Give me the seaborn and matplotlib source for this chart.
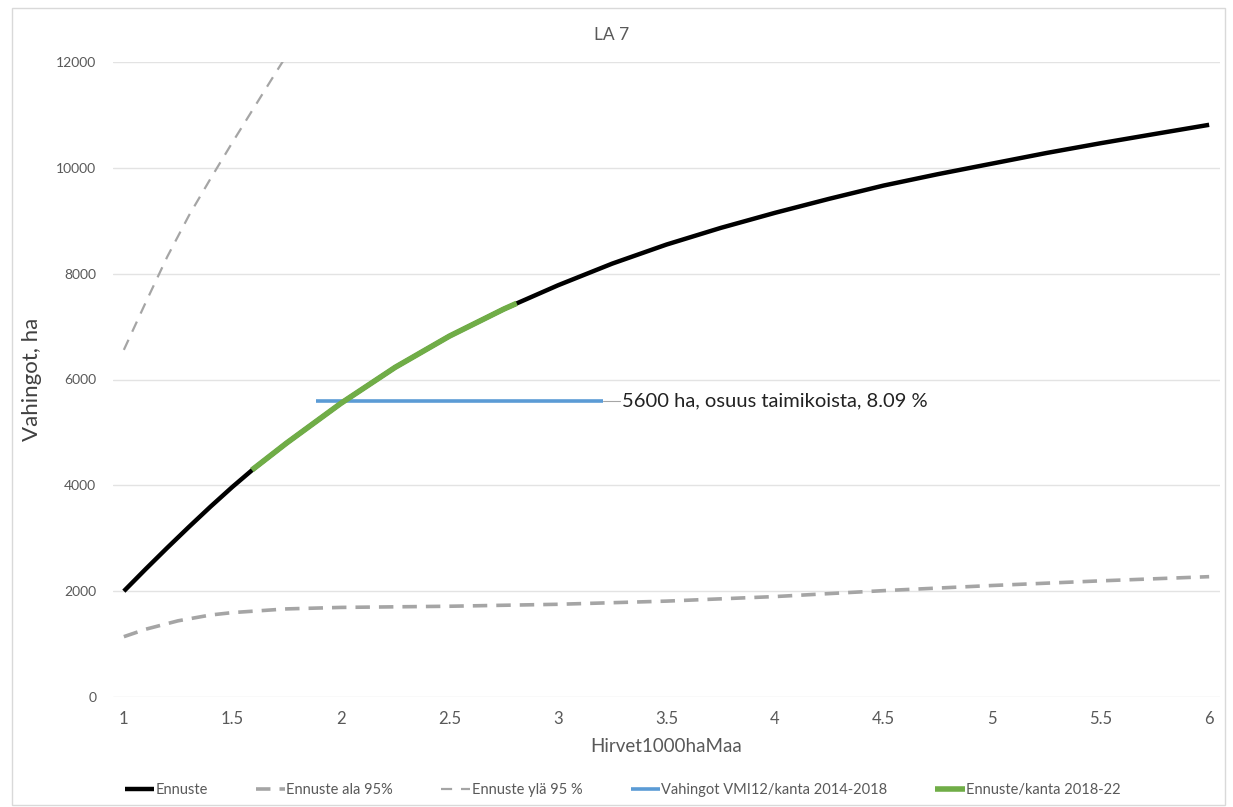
import numpy as np
import pandas as pd
import matplotlib
matplotlib.use("Agg")
import matplotlib.pyplot as plt
import seaborn as sns

# ---- data ----
x_main = [1.0, 1.1, 1.2, 1.3, 1.4, 1.5, 1.6, 1.75, 2.0, 2.25, 2.5, 2.75, 3.0, 3.25, 3.5,
          3.75, 4.0, 4.25, 4.5, 4.75, 5.0, 5.25, 5.5, 5.75, 6.0]
ennuste = [2000, 2415, 2820, 3215, 3600, 3970, 4320, 4800, 5550, 6230, 6820, 7330, 7780,
           8190, 8550, 8865, 9150, 9415, 9665, 9880, 10080, 10280, 10465, 10640, 10813]

x_low = [1.0, 1.1, 1.25, 1.4, 1.5, 1.75, 2.0, 2.5, 3.0, 3.5, 4.0, 4.5, 5.0, 5.5, 6.0]
ala95 = [1140, 1280, 1440, 1550, 1595, 1665, 1693, 1715, 1752, 1812, 1898, 2010, 2107,
         2195, 2274]

x_up = [1.0, 1.1, 1.2, 1.3, 1.4, 1.5, 1.6, 1.7, 1.8]
yla95 = [6560, 7450, 8320, 9100, 9800, 10480, 11140, 11800, 12450]

x_vmi = [1.885, 3.207]
vmi = [5600, 5600]

x_kanta = [1.59, 1.75, 2.0, 2.25, 2.5, 2.75, 2.81]
kanta = [4290, 4800, 5550, 6230, 6820, 7330, 7440]

labels = ["Ennuste", "Ennuste ala 95%", "Ennuste ylä 95 %",
          "Vahingot VMI12/kanta 2014-2018", "Ennuste/kanta 2018-22"]
annot = "5600 ha, osuus taimikoista, 8.09 %"

sns.set_theme(style="white")
plt.rcParams['font.family'] = ['Lato', 'DejaVu Sans']

fig = plt.figure(figsize=(12.33, 8.07), dpi=100)
ax = fig.add_axes([113/1233, 1-697/807, (1220-113)/1233, (697-62)/807])

grey = "#A5A5A5"
sns.lineplot(x=x_up, y=yla95, ax=ax, color=grey, lw=1.6, label=labels[2],
             linestyle=(0, (5, 4)), zorder=3)
sns.lineplot(x=x_low, y=ala95, ax=ax, color=grey, lw=2.6, label=labels[1],
             linestyle=(0, (4, 2.5)), zorder=3)
sns.lineplot(x=x_main, y=ennuste, ax=ax, color="black", lw=3.2, label=labels[0], zorder=4)
sns.lineplot(x=x_vmi, y=vmi, ax=ax, color="#5B9BD5", lw=2.6, label=labels[3], zorder=5)
sns.lineplot(x=x_kanta, y=kanta, ax=ax, color="#70AD47", lw=4.0, label=labels[4], zorder=6)

for line in ax.get_lines():
    line.set_solid_capstyle("butt")
    line.set_solid_joinstyle("round")

# annotation with leader line
ax.plot([x_vmi[1], x_vmi[1] + 0.08], [vmi[1], vmi[1]], color="#A6A6A6", lw=0.8, zorder=5)
ax.text(x_vmi[1] + 0.09, vmi[1], annot, fontsize=14.5, color="#222222", va="center", ha="left")

ax.set_xlim(0.95, 6.05)
ax.set_ylim(0, 12000)
ax.set_xticks([1, 1.5, 2, 2.5, 3, 3.5, 4, 4.5, 5, 5.5, 6])
ax.set_xticklabels(["1", "1.5", "2", "2.5", "3", "3.5", "4", "4.5", "5", "5.5", "6"])
ax.set_yticks(range(0, 12001, 2000))
ax.yaxis.grid(True, color="#E3E3E3", lw=1)
ax.xaxis.grid(False)
for s in ax.spines.values():
    s.set_visible(False)
ax.tick_params(axis="x", colors="#595959", labelsize=12, length=0, pad=10)
ax.tick_params(axis="y", colors="#595959", labelsize=10, length=0, pad=12)

ax.set_title("LA 7", fontsize=12.5, color="#595959", pad=16, x=(612-113)/1107)
ax.set_xlabel("Hirvet1000haMaa", fontsize=13.5, color="#595959", labelpad=8)
ax.set_ylabel("Vahingot, ha", fontsize=16, color="#404040", labelpad=20)
ax.yaxis.set_label_coords(-(113-42)/1107, 0.5)

handles, lbls = ax.get_legend_handles_labels()
hmap = dict(zip(lbls, handles))
ax.get_legend().remove()
fig.legend([hmap[l] for l in labels], labels, loc="center", bbox_to_anchor=(0.505, 1-790/807),
           ncol=5, frameon=False, fontsize=10.5, handlelength=2.0, handletextpad=0.1,
           columnspacing=3.3, labelcolor="#595959")

# outer chart border
fig.patches.append(plt.Rectangle((12/1233, 2/807), 1213/1233, 797/807, transform=fig.transFigure,
                                 fill=False, edgecolor="#D9D9D9", lw=1))

fig.savefig("out.png", dpi=100)
